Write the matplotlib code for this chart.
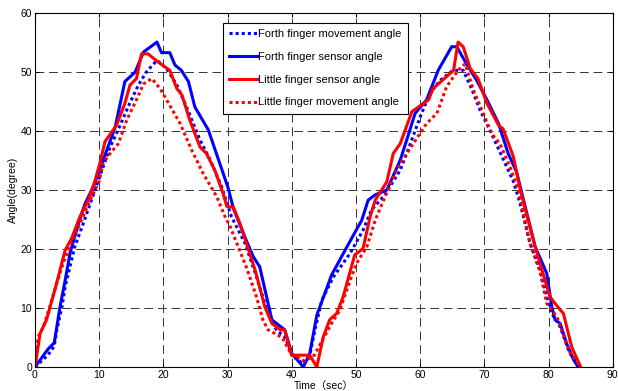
import numpy as np
import matplotlib
matplotlib.use("Agg")
import matplotlib.pyplot as plt

plt.rcParams['font.family'] = ['Liberation Sans', 'Noto Sans CJK SC', 'DejaVu Sans']

# Forth finger sensor angle (blue solid)
t_fs = [0, 2, 3, 3.9, 4.7, 5.5, 6.8, 7.8, 9.1, 11.2, 12.5, 14.0, 15.6, 16.9, 19.0, 19.7,
        21.0, 21.8, 22.8, 23.9, 24.9, 27.0, 28.6, 30.1, 30.9, 32.9, 34.0, 35.0, 36.9, 38.9,
        40.0, 41.8, 42.8, 43.9, 46.2, 48.6, 50.9, 51.9, 53.0, 54.8, 56.9, 57.9, 59.2, 61.0,
        62.8, 64.9, 65.7, 67.2, 68.8, 70.4, 72.2, 73.7, 75.0, 76.1, 77.9, 79.7, 80.5, 81.0,
        81.8, 82.8, 83.9, 84.6]
v_fs = [0, 3, 4.1, 10.2, 14.7, 19.5, 24.4, 27.7, 30.6, 36.8, 40.7, 48.4, 50, 53.4, 55.1, 53.3,
        53.3, 51.2, 50.3, 48.4, 44.1, 40.2, 35.1, 30.3, 26.9, 21.5, 18.7, 17.0, 8.0, 6.3,
        2.3, 0, 2.3, 8.8, 15.6, 20.4, 24.9, 28.3, 29.2, 30.0, 35.1, 38.5, 43.0, 45.3,
        50.3, 54.3, 54.3, 51.4, 48.6, 45.3, 41.3, 36.2, 33.1, 28.3, 20.4, 15.9, 10.2, 8.0,
        7.4, 4.0, 1.2, 0]

# Little finger sensor angle (red solid)
t_ls = [0, 0.8, 1.8, 3.1, 4.7, 5.7, 7.0, 8.3, 9.3, 10.1, 10.9, 12.7, 14.0, 14.8, 15.8, 16.6,
        17.6, 19.2, 21.0, 22.1, 22.9, 24.1, 25.7, 26.7, 28.0, 29.3, 29.9, 30.9, 31.9, 34.3,
        35.8, 36.9, 38.2, 38.9, 40.0, 42.8, 43.9, 44.9, 45.9, 47.0, 48.0, 49.8, 51.1, 52.2,
        53.0, 54.8, 55.8, 56.9, 58.7, 61.3, 62.0, 65.2, 65.9, 66.7, 67.8, 69.0, 70.4, 72.2,
        72.9, 74.5, 75.6, 77.9, 80.2, 81.8, 82.3, 83.6, 85.0]
v_ls = [0, 5.7, 8.0, 13.1, 19.8, 21.8, 25.5, 28.3, 31.4, 34.5, 38.2, 41.0, 44.7, 47.8, 48.9, 53.1,
        53.1, 51.7, 50.3, 47.2, 46.1, 41.9, 37.3, 36.2, 33.4, 29.4, 27.2, 27.1, 24.4, 16.4,
        10.2, 7.4, 6.3, 6.3, 2.0, 2.0, 0, 5.1, 8.0, 9.1, 11.9, 19.0, 20.1, 25.5,
        28.3, 31.4, 36.2, 37.9, 43.3, 45.3, 47.2, 50.3, 55.1, 54.3, 50.6, 48.9, 44.7, 41.0,
        40.4, 35.7, 30.0, 20.4, 11.9, 9.7, 9.1, 3.4, 0]

# Forth finger movement angle (blue dotted)
t_fm = [0, 2, 3.0, 3.4, 4.2, 4.7, 5.45, 6.2, 7.5, 8.8, 9.9, 11.7, 12.7, 14.5, 16.1, 17.4,
        19.0, 20.5, 22.1, 23.6, 25.7, 27.3, 29.1, 30.6, 32.7, 34.5, 36.3, 37.6, 39.0, 40.0,
        41.8, 42.8, 43.6, 44.7, 46.5, 49.1, 51.1, 52.4, 54.5, 56.9, 58.1, 60.0, 61.5, 63.1,
        65.1, 66.7, 68.0, 69.3, 71.1, 72.9, 74.5, 75.5, 77.1, 78.7, 79.7, 80.5, 81.8, 83.3, 85]
v_fm = [0, 2, 3.5, 6.3, 10.2, 13.6, 17.0, 20.4, 24.3, 28.3, 31.7, 37.3, 39.6, 44.1, 47.8, 50.1,
        52.0, 50.6, 47.8, 44.1, 38.5, 35.1, 30.5, 25.5, 21.0, 15.3, 9.1, 6.3, 5.0, 2.0,
        0.5, 2.0, 6.3, 11.4, 15.3, 19.3, 23.2, 26.6, 29.2, 33.4, 36.8, 42.4, 46.4, 48.6,
        50.3, 50.3, 47.2, 43.6, 39.6, 35.3, 31.5, 28.0, 21.0, 16.4, 11.9, 9.1, 6.8, 2.3, 0]

# Little finger movement angle (red dotted)
t_lm = [0, 0.5, 1.3, 2.3, 3.4, 4.4, 5.7, 7.0, 8.6, 10.0, 10.6, 11.7, 13.0, 14.3, 15.8, 16.9,
        18.2, 19.5, 20.5, 22.6, 24.4, 26.2, 28.3, 29.6, 30.4, 32.9, 34.5, 35.5, 36.3, 38.5,
        40.0, 42.0, 43.5, 45.2, 46.2, 47.5, 49.1, 50.1, 51.7, 53.0, 54.3, 56.3, 57.9, 61.0,
        62.6, 64.1, 65.9, 67.0, 68.3, 69.6, 71.1, 72.4, 74.0, 75.3, 77.1, 78.7, 79.7, 81.3,
        83.3, 85]
v_lm = [0, 5.1, 6.8, 10.2, 14.2, 17.6, 21.2, 24.3, 28.3, 31.5, 34.5, 36.2, 37.9, 41.9, 45.3, 48.0,
        48.9, 47.2, 45.3, 41.3, 36.8, 32.8, 28.9, 25.5, 23.8, 17.0, 11.9, 8.0, 6.3, 5.0,
        2.0, 1.0, 2.0, 5.4, 7.4, 9.7, 14.7, 17.6, 20.4, 24.9, 28.3, 33.4, 36.2, 41.3,
        43.0, 47.5, 50.3, 51.4, 46.9, 43.6, 39.6, 37.9, 33.9, 30.0, 21.0, 16.0, 10.8, 8.5,
        2.5, 0]

fig = plt.figure(figsize=(6.18, 3.91), dpi=100)
ax = fig.add_axes([0.0566, 0.0614, 0.935, 0.905])

dot = (0, (1, 1))
ax.plot(t_fm, v_fm, color='blue', lw=2.2, linestyle=dot, label='Forth finger movement angle')
ax.plot(t_fs, v_fs, color='blue', lw=2.2, label='Forth finger sensor angle')
ax.plot(t_ls, v_ls, color='red', lw=2.2, label='Little finger sensor angle')
ax.plot(t_lm, v_lm, color='red', lw=2.2, linestyle=dot, label='Little finger movement angle')

ax.set_xlim(0, 90)
ax.set_ylim(0, 60)
ax.set_xticks(np.arange(0, 91, 10))
ax.set_yticks(np.arange(0, 61, 10))
ax.grid(True, color='0.2', linestyle=(0, (9, 5)), lw=0.7)
ax.tick_params(direction='in', top=True, right=True, length=3, labelsize=7.5, pad=2)
for s in ax.spines.values():
    s.set_linewidth(0.8)

ax.set_xlabel('Time（sec）', fontsize=7.5, labelpad=1)
ax.set_ylabel('Angle(degree)', fontsize=7.5, labelpad=2)

leg = ax.legend(loc='upper left', bbox_to_anchor=(0.325, 0.972), fontsize=8,
                handlelength=2.5, handletextpad=0.15, labelspacing=1.15,
                borderpad=0.55, borderaxespad=0, fancybox=False, framealpha=1)
leg.get_frame().set_edgecolor('black')
leg.get_frame().set_linewidth(0.8)

fig.savefig('out.png', dpi=100)
